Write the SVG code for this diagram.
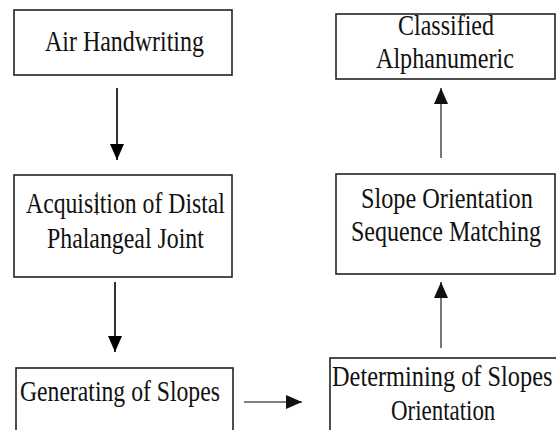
<svg xmlns="http://www.w3.org/2000/svg" width="556" height="430" viewBox="0 0 556 430">
<style>
.box{fill:#fff;stroke:#222;stroke-width:1.6}
.c1{stroke:#000;stroke-width:1.6;fill:none}
.c2{stroke:#555;stroke-width:1.6;fill:none}
</style>
<defs>
<marker id="ahb" markerUnits="userSpaceOnUse" markerWidth="18" markerHeight="16" refX="16" refY="7" orient="auto">
<path d="M0,0 L16,7 L0,14 Z" fill="#000"/>
</marker>
<marker id="ahg" markerUnits="userSpaceOnUse" markerWidth="18" markerHeight="16" refX="16" refY="7" orient="auto">
<path d="M0,0 L16,7 L0,14 Z" fill="#111"/>
</marker>
</defs>
<rect width="556" height="430" fill="#fff"/>
<g id="connectors">
<line class="c1" x1="117" y1="88" x2="117" y2="160" marker-end="url(#ahb)"/>
<line class="c1" x1="115" y1="282" x2="115" y2="352" marker-end="url(#ahb)"/>
<line class="c2" x1="244" y1="402" x2="302" y2="402" marker-end="url(#ahg)"/>
<line class="c2" x1="441" y1="348" x2="441" y2="282" marker-end="url(#ahg)"/>
<line class="c2" x1="441" y1="158" x2="441" y2="88" marker-end="url(#ahg)"/>
</g>
<g font-family="Liberation Serif, serif" font-size="29" fill="#111">
<g id="air-handwriting">
<rect class="box" x="14" y="10" width="218" height="65"/>
<text transform="matrix(0.826 0 0 1 45 51)">Air Handwriting</text>
</g>
<g id="acquisition">
<rect class="box" x="14" y="175" width="218" height="102"/>
<text transform="matrix(0.818 0 0 1 26 213)">Acquisition of Distal</text>
<text transform="matrix(0.822 0 0 1 47 248)">Phalangeal Joint</text>
<line x1="97" y1="192" x2="97" y2="215" stroke="#111" stroke-width="1"/>
</g>
<g id="generating">
<rect class="box" x="16" y="368" width="217" height="80"/>
<text transform="matrix(0.817 0 0 1 20 401)">Generating of Slopes</text>
</g>
<g id="determining">
<rect class="box" x="330" y="358" width="240" height="90"/>
<text transform="matrix(0.84 0 0 1 332 386)">Determining of Slopes</text>
<text transform="matrix(0.79 0 0 1 391 420)">Orientation</text>
</g>
<g id="slope-matching">
<rect class="box" x="336" y="174" width="219" height="100"/>
<text transform="matrix(0.837 0 0 1 361 208)">Slope Orientation</text>
<text transform="matrix(0.828 0 0 1 351 241)">Sequence Matching</text>
</g>
<g id="classified">
<rect class="box" x="336" y="14" width="219" height="65"/>
<text transform="matrix(0.828 0 0 1 398 35)">Classified</text>
<text transform="matrix(0.832 0 0 1 376 68)">Alphanumeric</text>
</g>
</g>
</svg>
